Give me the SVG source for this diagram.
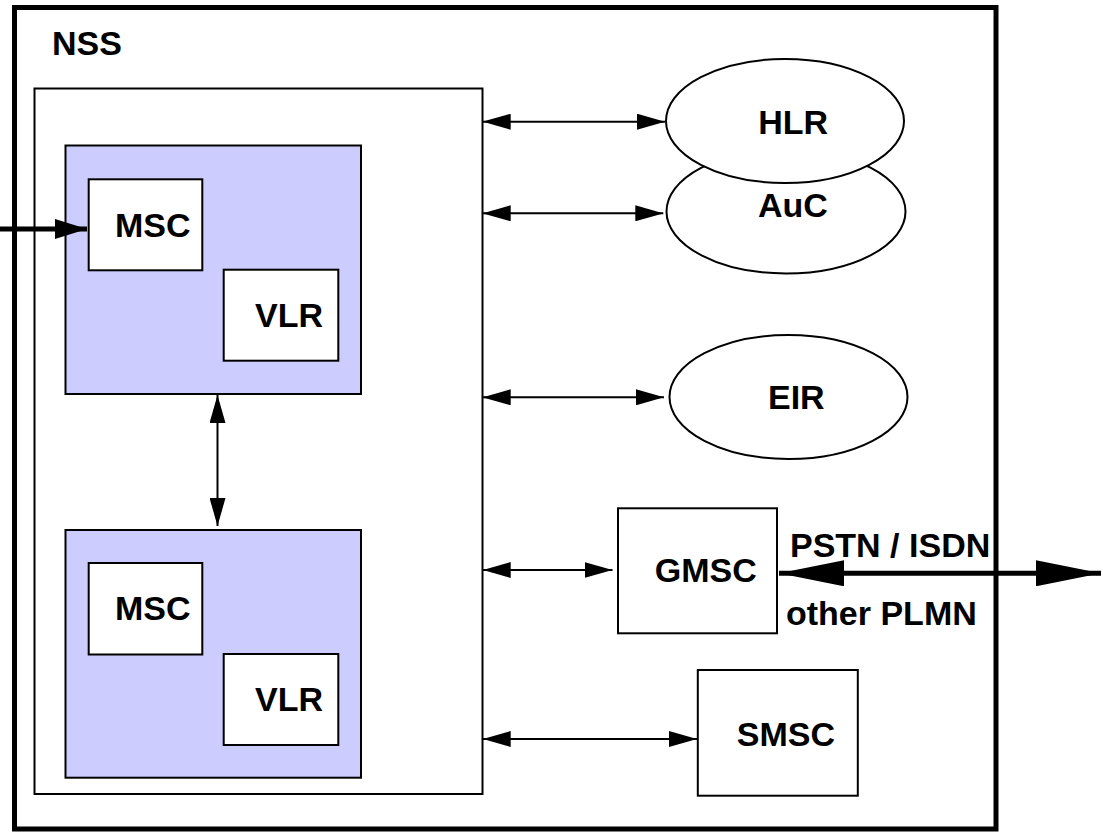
<svg xmlns="http://www.w3.org/2000/svg" width="1103" height="832" viewBox="0 0 1103 832">
<defs>
<marker id="ah" markerUnits="userSpaceOnUse" markerWidth="28" markerHeight="16" refX="28" refY="8" orient="auto-start-reverse" viewBox="0 0 28 16"><path d="M0,0 L28,8 L0,16 z" fill="#000"/></marker>
<marker id="ahIn" markerUnits="userSpaceOnUse" markerWidth="32" markerHeight="20" refX="32" refY="10" orient="auto-start-reverse" viewBox="0 0 32 20"><path d="M0,0 L32,10 L0,20 z" fill="#000"/></marker>
<marker id="ahBig" markerUnits="userSpaceOnUse" markerWidth="65" markerHeight="26" refX="65" refY="13" orient="auto-start-reverse" viewBox="0 0 65 26"><path d="M0,0 L65,13 L0,26 z" fill="#000"/></marker>
</defs>
<style>
.box{fill:#fff;stroke:#000;stroke-width:2}
.blue{fill:#ccccff;stroke:#000;stroke-width:2}
.ell{fill:#fff;stroke:#000;stroke-width:2}
.t{font-family:"Liberation Sans",Arial,Helvetica,sans-serif;font-weight:bold;font-size:34px;fill:#000}
.c{stroke:#000;stroke-width:2;fill:none;marker-start:url(#ah);marker-end:url(#ah)}
</style>
<rect x="0" y="0" width="1103" height="832" fill="#fff"/>
<g id="nss">
<rect x="14.5" y="7.5" width="981.5" height="821.5" fill="#fff" stroke="#000" stroke-width="5"/>
<text class="t" x="52" y="55">NSS</text>
</g>
<g id="core">
<rect class="box" x="34.5" y="88.5" width="448" height="705.5"/>
</g>
<g id="group1">
<rect class="blue" x="65.5" y="145.5" width="295.5" height="248.5"/>
</g>
<g id="msc1">
<rect class="box" x="88.7" y="179.3" width="113.6" height="91"/>
<text class="t" x="115" y="237">MSC</text>
</g>
<g id="vlr1">
<rect class="box" x="223.7" y="269.7" width="114.6" height="91"/>
<text class="t" x="255" y="327">VLR</text>
</g>
<g id="group2">
<rect class="blue" x="65.5" y="530" width="295.5" height="247.7"/>
</g>
<g id="msc2">
<rect class="box" x="88.7" y="563" width="113.6" height="91.5"/>
<text class="t" x="115" y="620">MSC</text>
</g>
<g id="vlr2">
<rect class="box" x="223.7" y="654" width="114.6" height="91"/>
<text class="t" x="255" y="711">VLR</text>
</g>
<g id="auc">
<ellipse class="ell" cx="786" cy="211.5" rx="119.5" ry="62"/>
<text class="t" x="758" y="217.3">AuC</text>
</g>
<g id="hlr">
<ellipse class="ell" cx="785" cy="121" rx="119" ry="62"/>
<text class="t" x="758.3" y="134">HLR</text>
</g>
<g id="eir">
<ellipse class="ell" cx="788.5" cy="397" rx="119" ry="62"/>
<text class="t" x="768" y="409.3">EIR</text>
</g>
<g id="gmsc">
<rect class="box" x="618" y="508.3" width="159" height="125"/>
<text class="t" x="654.8" y="581.7">GMSC</text>
</g>
<g id="smsc">
<rect class="box" x="697.8" y="670" width="160" height="125.7"/>
<text class="t" x="736.8" y="746">SMSC</text>
</g>
<g id="labels">
<text class="t" x="790" y="556.7">PSTN / ISDN</text>
<text class="t" x="786" y="625">other PLMN</text>
</g>
<g id="connectors">
<line x1="0" y1="229" x2="87" y2="229" stroke="#000" stroke-width="5" marker-end="url(#ahIn)"/>
<line class="c" x1="217.5" y1="395" x2="217.5" y2="526"/>
<line class="c" x1="482.7" y1="121.7" x2="665" y2="121.7"/>
<line class="c" x1="482.7" y1="213.3" x2="663.3" y2="213.3"/>
<line class="c" x1="482.7" y1="397.3" x2="664" y2="397.3"/>
<line class="c" x1="482.7" y1="570" x2="612.5" y2="570"/>
<line class="c" x1="482.7" y1="739" x2="697" y2="739"/>
<line x1="779" y1="573.3" x2="1101" y2="573.3" stroke="#000" stroke-width="5" marker-start="url(#ahBig)" marker-end="url(#ahBig)"/>
</g>
</svg>
